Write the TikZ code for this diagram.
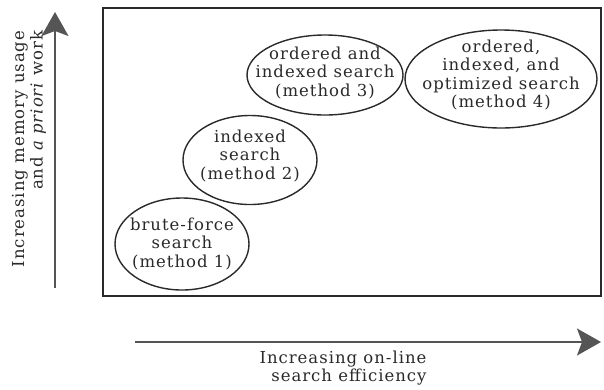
\documentclass[tikz,border=0pt]{standalone}
\usepackage{fontspec}
\setmainfont{DejaVu Serif}[LetterSpace=6]
\usetikzlibrary{shapes.geometric,arrows.meta}
\definecolor{ink}{HTML}{2a2a2a}
\definecolor{axisgrey}{HTML}{555555}
\begin{document}
\begin{tikzpicture}[x=1pt,y=-1pt,
  txt/.style={font=\fontsize{16.5}{18.5}\selectfont, text=ink},
  method/.style={draw=ink, line width=1.4pt, ellipse, inner sep=0pt},
  mtext/.style={txt, align=center, inner sep=0pt},
  axlabel/.style={txt, align=right, inner sep=0pt},
  axis/.style={draw=axisgrey, line width=2pt, -{Stealth[length=24pt,width=27pt,inset=5pt,fill=axisgrey]}},
]
\useasboundingbox (0,0) rectangle (604,389);
\node[draw=ink, line width=2pt, minimum width=498pt, minimum height=288pt, inner sep=0pt] (frame) at (352,152) {};

\node[method, minimum width=134pt, minimum height=92pt] (m1) at (182,244) {};
\node[mtext] (t1) at (m1) {brute-force\\search\\(method 1)};
\node[method, minimum width=134pt, minimum height=89pt] (m2) at (250,160) {};
\node[mtext] (t2) at ([yshift=4pt]m2.center) {indexed\\search\\(method 2)};
\node[method, minimum width=156pt, minimum height=80pt] (m3) at (325,75) {};
\node[mtext] (t3) at ([yshift=2pt]m3.center) {ordered and\\indexed search\\(method 3)};
\node[method, minimum width=192pt, minimum height=98pt] (m4) at (501,79) {};
\node[mtext] (t4) at ([yshift=4pt]m4.center) {ordered,\\indexed, and\\optimized search\\(method 4)};

\coordinate (vs) at (55,288);
\coordinate (ve) at (55,12);
\draw[axis] (vs) -- (ve);
\node[axlabel, rotate=90] (vlab) at (29,149) {Increasing memory usage\\and \textit{a priori} work};

\coordinate (hs) at (135,342);
\coordinate (he) at (601,342);
\draw[axis] (hs) -- (he);
\node[axlabel] (hlab) at (343,368) {Increasing on-line\\search efficiency};
\end{tikzpicture}
\end{document}
